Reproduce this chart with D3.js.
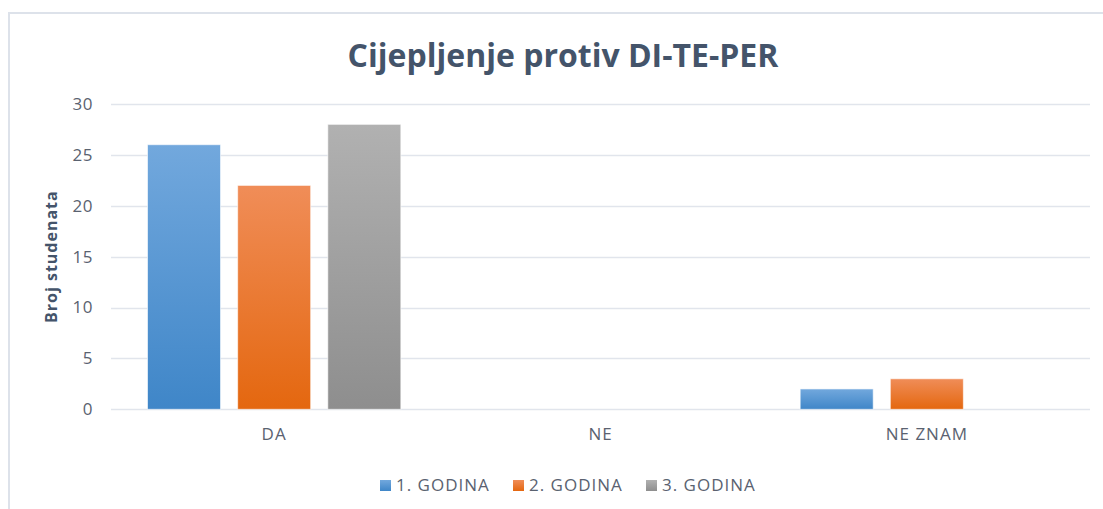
<!DOCTYPE html>
<html>
<head>
<meta charset="utf-8">
<script src="https://cdn.jsdelivr.net/npm/d3@7"></script>
<style>
  body { margin: 0; background: #fff; }
  svg { display: block; font-family: "Open Sans", sans-serif; }
</style>
</head>
<body>
<script>
// chart data
const categories = ["DA", "NE", "NE ZNAM"];
const seriesNames = ["1. GODINA", "2. GODINA", "3. GODINA"];
const godina1 = [26, 0, 2];
const godina2 = [22, 0, 3];
const godina3 = [28, 0, 0];
const yTicks = [0, 5, 10, 15, 20, 25, 30];

const seriesValues = [godina1, godina2, godina3];
const colors = [
  { top: "#72a8dd", bottom: "#3f86c8" },
  { top: "#f08d58", bottom: "#e4670f" },
  { top: "#b1b1b1", bottom: "#8e8e8e" }
];

const width = 1103, height = 509;
const margin = { left: 111, right: 13, top: 104, bottom: 100 };

const svg = d3.select("body").append("svg")
    .attr("width", width)
    .attr("height", height);

// gradients for the bars
const defs = svg.append("defs");
colors.forEach((c, i) => {
  const g = defs.append("linearGradient")
      .attr("id", "grad" + i)
      .attr("x1", 0).attr("y1", 0).attr("x2", 0).attr("y2", 1);
  g.append("stop").attr("offset", "0%").attr("stop-color", c.top);
  g.append("stop").attr("offset", "100%").attr("stop-color", c.bottom);
});

// outer frame
svg.append("rect")
    .attr("x", 9).attr("y", 13)
    .attr("width", width + 20).attr("height", height + 20)
    .attr("fill", "none")
    .attr("stroke", "#dde2ea")
    .attr("stroke-width", 2);

const x0 = d3.scaleBand()
    .domain(categories)
    .range([margin.left, width - margin.right]);

const x1 = d3.scaleBand()
    .domain(seriesNames)
    .range([0, x0.bandwidth()])
    .paddingInner(0.19)
    .paddingOuter(0.405);

const y = d3.scaleLinear()
    .domain([0, 30])
    .range([height - margin.bottom + 0.3, margin.top]);

// gridlines
svg.append("g")
  .selectAll("line")
  .data(yTicks)
  .join("line")
    .attr("x1", margin.left)
    .attr("x2", width - margin.right)
    .attr("y1", d => Math.round(y(d)) + 0.5)
    .attr("y2", d => Math.round(y(d)) + 0.5)
    .attr("stroke", "#e1e5ec")
    .attr("stroke-width", 1.3);

// y axis labels
const yAxis = svg.append("g")
    .attr("transform", `translate(${margin.left - 18},0)`)
    .call(d3.axisLeft(y).tickValues(yTicks).tickSize(0).tickPadding(0));
yAxis.select(".domain").remove();
yAxis.selectAll("text")
    .attr("fill", "#5a6270")
    .style("font-size", "17px")
    .style("letter-spacing", "0.5px")
    .style("font-family", "'Open Sans', sans-serif");

// bars
const groups = svg.append("g")
  .selectAll("g")
  .data(categories)
  .join("g")
    .attr("transform", d => `translate(${x0(d)},0)`);

groups.selectAll("rect")
  .data((d, ci) => seriesNames.map((s, si) => ({ s, si, v: seriesValues[si][ci] })))
  .join("rect")
    .filter(d => d.v > 0)
    .attr("x", d => x1(d.s))
    .attr("y", d => y(d.v))
    .attr("width", x1.bandwidth())
    .attr("height", d => y(0) - y(d.v))
    .attr("fill", d => `url(#grad${d.si})`)
    .attr("stroke", "#ffffff")
    .attr("stroke-opacity", 0.6)
    .attr("stroke-width", 1);

// category labels
const xAxis = svg.append("g")
    .attr("transform", `translate(0,${y(0)})`)
    .call(d3.axisBottom(x0).tickSize(0).tickPadding(19));
xAxis.select(".domain").remove();
xAxis.selectAll("text")
    .attr("fill", "#5a6270")
    .style("font-size", "17px")
    .style("letter-spacing", "1px")
    .style("font-family", "'Open Sans', sans-serif");

// title
svg.append("text")
    .attr("x", 563)
    .attr("y", 67)
    .attr("text-anchor", "middle")
    .attr("fill", "#44546a")
    .style("font-size", "32px")
    .style("font-weight", "bold")
    .text("Cijepljenje protiv DI-TE-PER");

// y axis title
svg.append("text")
    .attr("transform", `translate(57,${(y(0) + y(30)) / 2}) rotate(-90)`)
    .attr("text-anchor", "middle")
    .attr("fill", "#44546a")
    .style("font-size", "16px")
    .style("font-weight", "bold")
    .style("letter-spacing", "1px")
    .text("Broj studenata");

// legend
const legendX = [380, 513, 646];
const legend = svg.append("g")
  .selectAll("g")
  .data(seriesNames)
  .join("g")
    .attr("transform", (d, i) => `translate(${legendX[i]},491)`);
legend.append("rect")
    .attr("x", 0).attr("y", -11)
    .attr("width", 11).attr("height", 11)
    .attr("fill", (d, i) => `url(#grad${i})`);
legend.append("text")
    .attr("x", 16)
    .attr("y", 0)
    .attr("fill", "#5a6270")
    .style("font-size", "17px")
    .style("letter-spacing", "1px")
    .text(d => d);
</script>
</body>
</html>
